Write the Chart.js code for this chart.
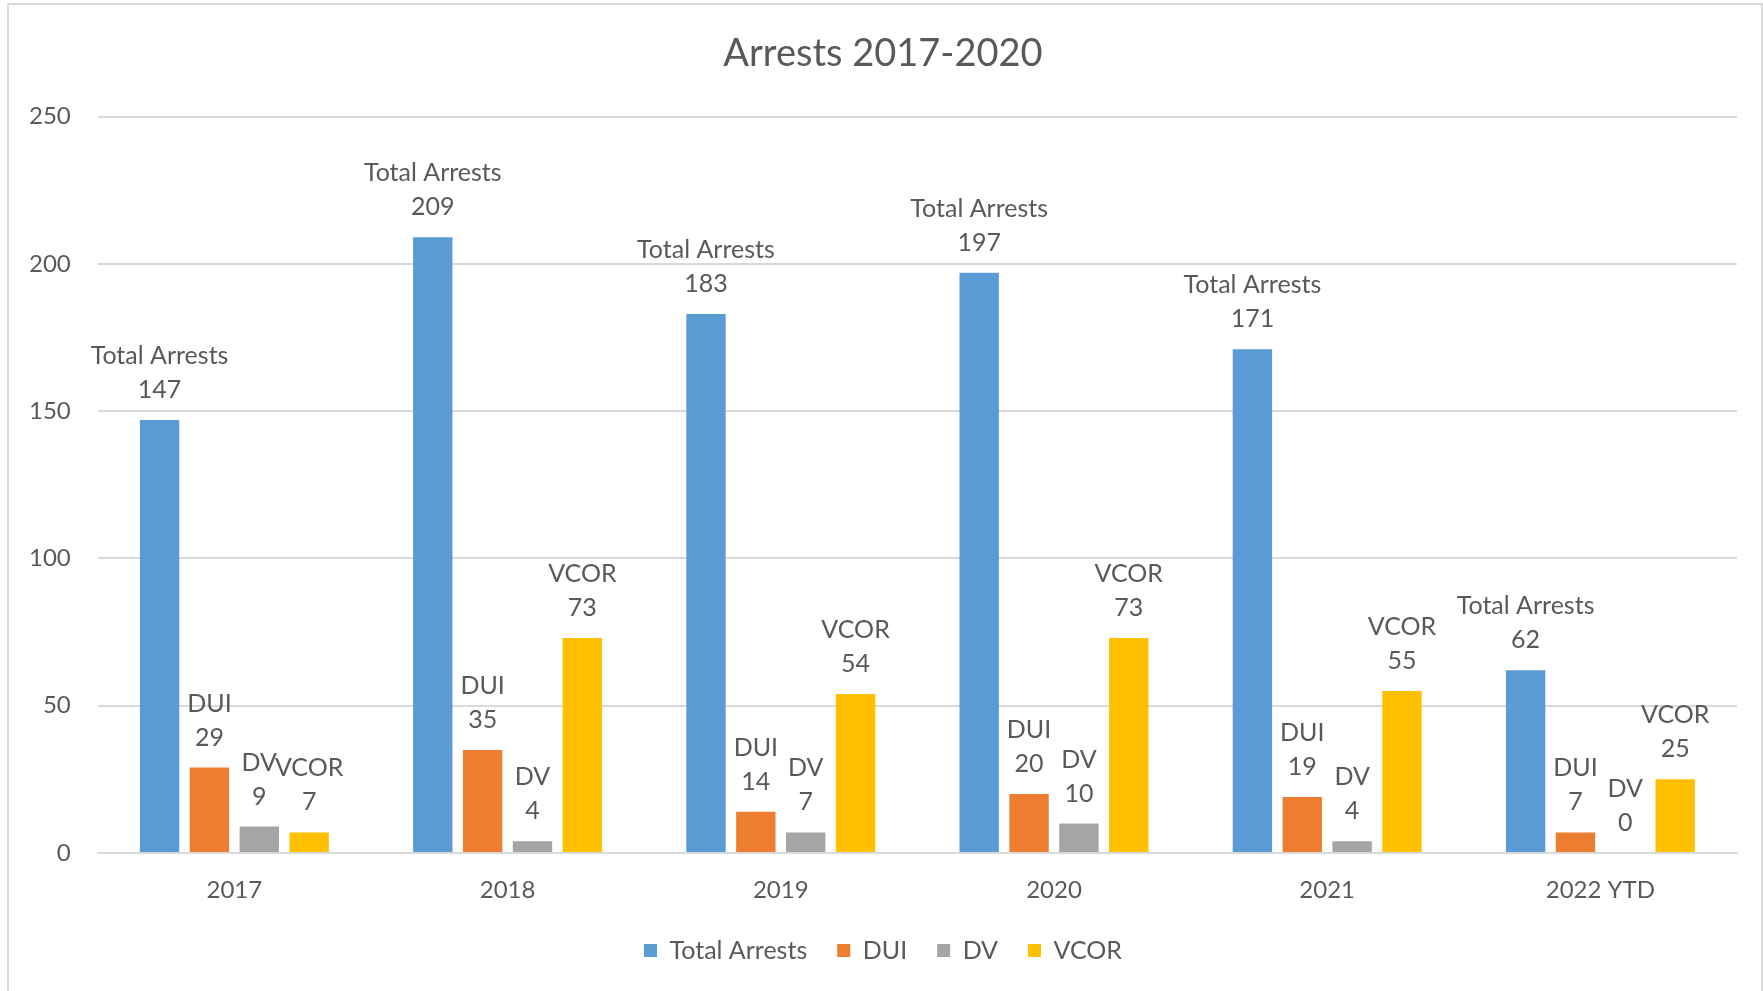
<!DOCTYPE html>
<html lang="en">
<head>
    <meta charset="UTF-8">
    <title>Arrests 2017-2020</title>
    <script src="https://cdn.jsdelivr.net/npm/chart.js"></script>
    <style>
        body {
            margin: 0;
            padding: 0;
            background: #ffffff;
            overflow: hidden;
        }
        .chart-box {
            position: absolute;
            left: 7px;
            top: 3px;
            width: 1752px;
            height: 990px;
            border: 2px solid #d9d9d9;
            border-bottom: none;
            background: #ffffff;
        }
        canvas { display: block; }
    </style>
</head>
<body>
    <div class="chart-box">
        <canvas id="arrests-chart" width="1752" height="988"></canvas>
    </div>

    <script>
        const years = ["2017", "2018", "2019", "2020", "2021", "2022 YTD"];
        const totalArrests = [147, 209, 183, 197, 171, 62];
        const dui = [29, 35, 14, 20, 19, 7];
        const dv = [9, 4, 7, 10, 4, 0];
        const vcor = [7, 73, 54, 73, 55, 25];

        const textColor = "#595959";
        const fontFamily = "Lato, 'Open Sans', sans-serif";

        // Two-line label (series name, then value) above each bar
        const barLabels = {
            id: "barLabels",
            afterDatasetsDraw(chart) {
                const ctx = chart.ctx;
                ctx.save();
                ctx.fillStyle = textColor;
                ctx.font = "25px " + fontFamily;
                ctx.textAlign = "center";
                ctx.textBaseline = "middle";
                chart.data.datasets.forEach((ds, i) => {
                    const meta = chart.getDatasetMeta(i);
                    meta.data.forEach((bar, j) => {
                        ctx.fillText(String(ds.data[j]), bar.x, bar.y - 30);
                        ctx.fillText(ds.label, bar.x, bar.y - 64);
                    });
                });
                ctx.restore();
            }
        };

        const commonBar = { categoryPercentage: 0.73, barPercentage: 0.79 };

        new Chart(document.getElementById("arrests-chart").getContext("2d"), {
            type: "bar",
            data: {
                labels: years,
                datasets: [
                    { label: "Total Arrests", data: totalArrests, backgroundColor: "#5b9bd5", ...commonBar },
                    { label: "DUI", data: dui, backgroundColor: "#ed7d31", ...commonBar },
                    { label: "DV", data: dv, backgroundColor: "#a5a5a5", ...commonBar },
                    { label: "VCOR", data: vcor, backgroundColor: "#ffc000", ...commonBar }
                ]
            },
            options: {
                responsive: false,
                animation: false,
                layout: { padding: { left: 20, right: 24, top: 10, bottom: 20 } },
                plugins: {
                    title: {
                        display: true,
                        text: "Arrests 2017-2020",
                        color: textColor,
                        font: { family: fontFamily, size: 38, weight: "normal" },
                        padding: { top: 16, bottom: 40 }
                    },
                    legend: {
                        position: "bottom",
                        labels: {
                            color: textColor,
                            font: { family: fontFamily, size: 25 },
                            boxWidth: 13,
                            boxHeight: 13,
                            padding: 30
                        }
                    },
                    tooltip: { enabled: false }
                },
                scales: {
                    x: {
                        grid: { display: false },
                        border: { display: true, color: "#d9d9d9", width: 2 },
                        ticks: { color: textColor, font: { family: fontFamily, size: 24 }, padding: 15 },
                        afterFit(scale) { scale.height = 55; }
                    },
                    y: {
                        min: 0,
                        max: 250,
                        ticks: { stepSize: 50, color: textColor, font: { family: fontFamily, size: 24 }, padding: 27 },
                        grid: { color: "#d9d9d9", lineWidth: 2, drawTicks: false },
                        border: { display: false },
                        // tick padding is counted on both sides of the labels; keep only the inner gap
                        afterFit(scale) { scale.width = scale.width - 27; }
                    }
                }
            },
            plugins: [barLabels]
        });
    </script>
</body>
</html>
